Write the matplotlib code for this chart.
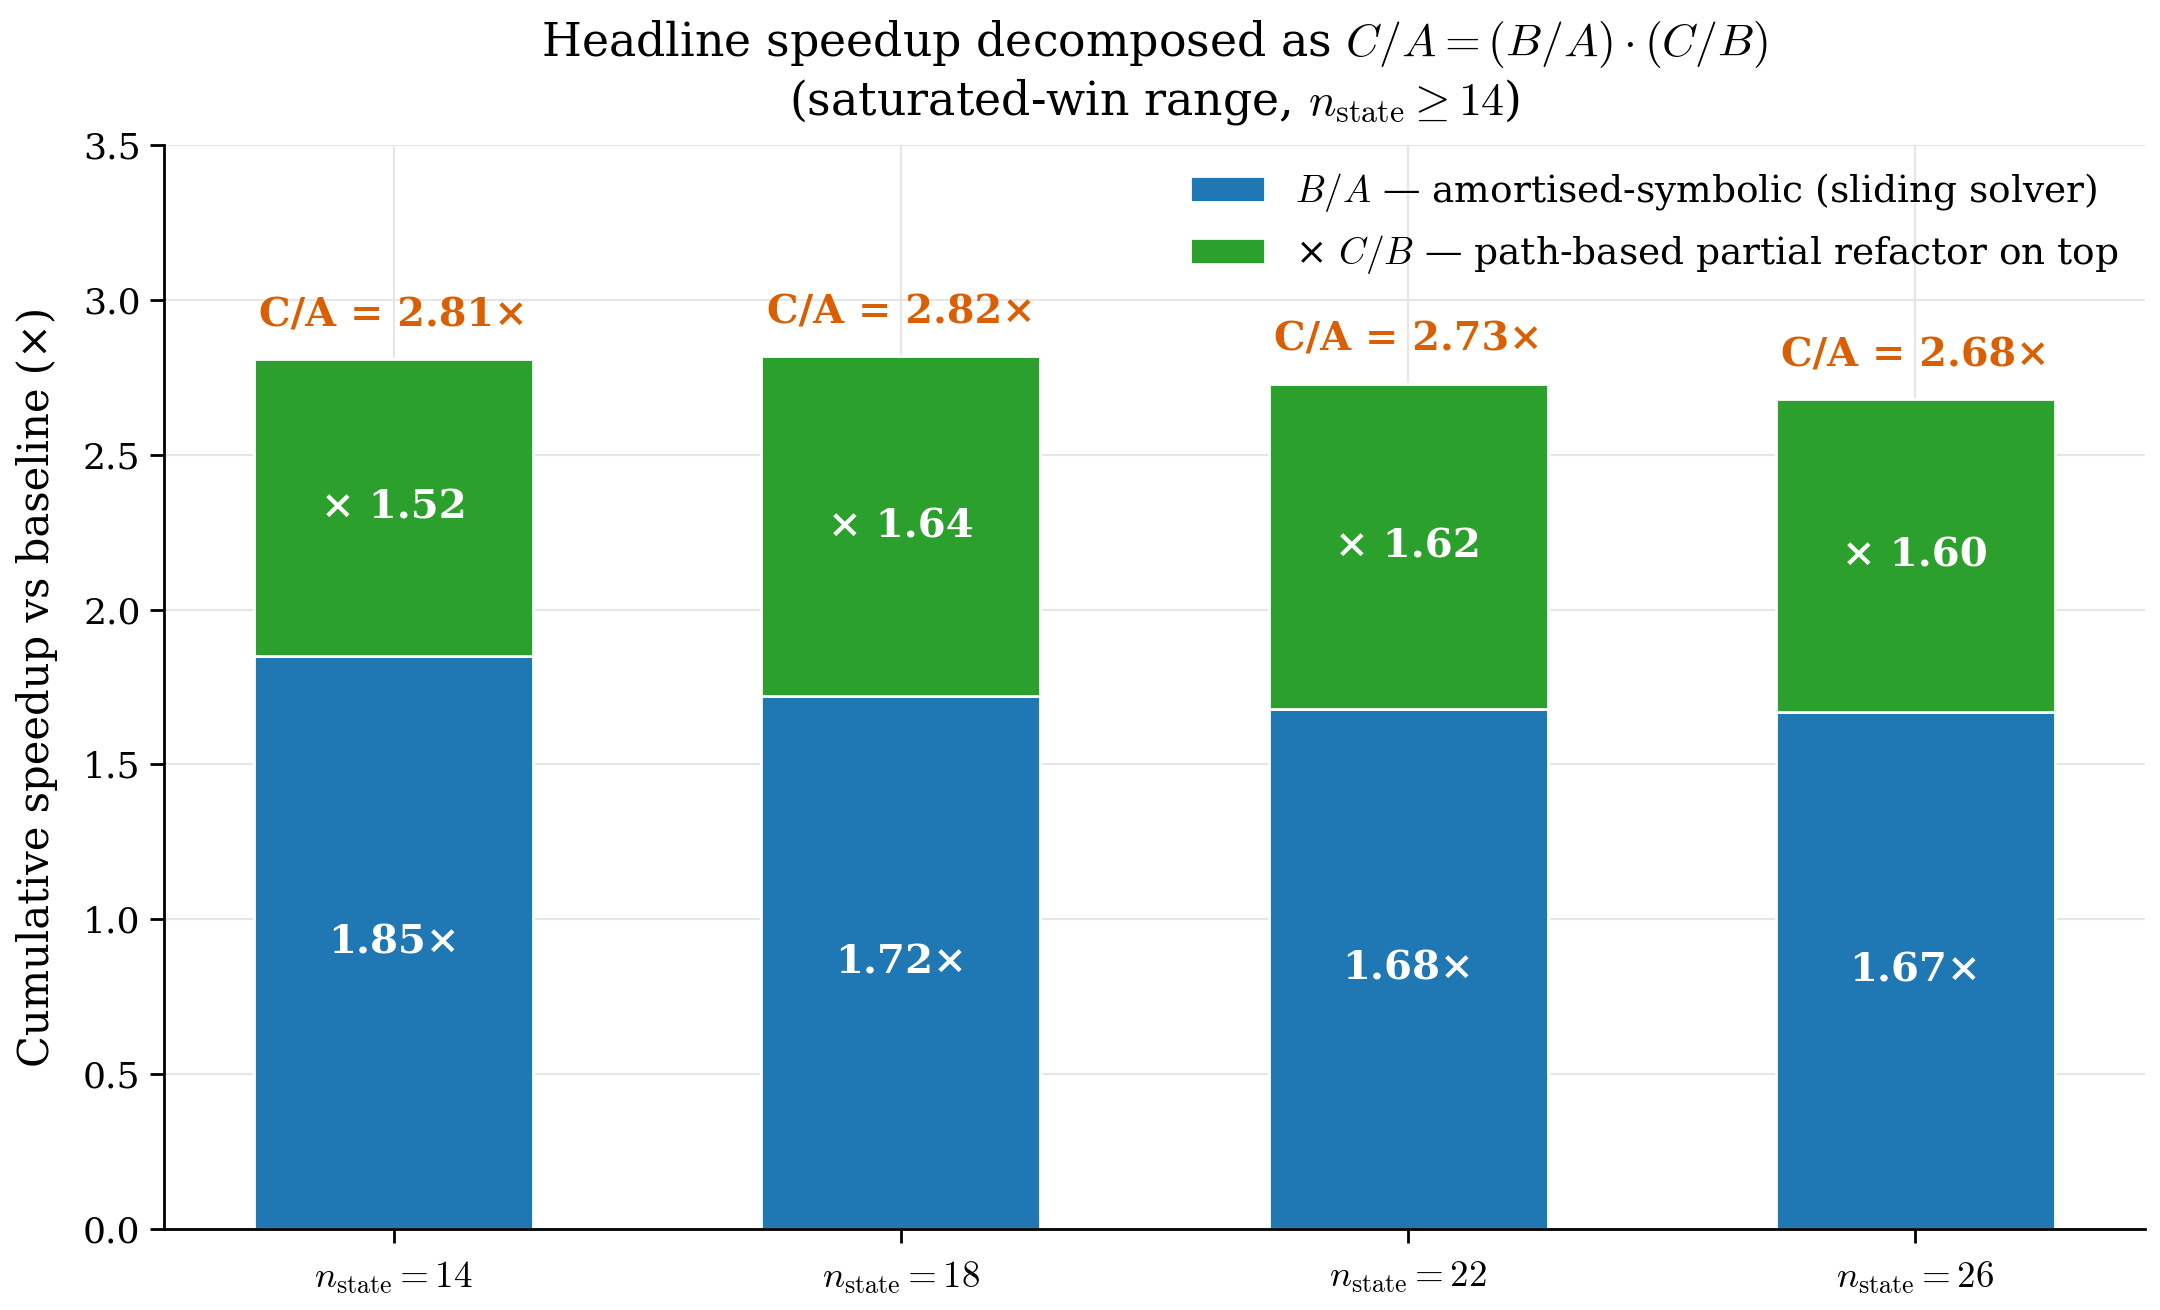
import matplotlib
matplotlib.use("Agg")
import matplotlib.pyplot as plt
import numpy as np

plt.rcParams["font.family"] = "DejaVu Serif"
plt.rcParams["mathtext.fontset"] = "cm"

n_state = [14, 18, 22, 26]
b_over_a = [1.85, 1.72, 1.68, 1.67]
c_over_b = [1.52, 1.64, 1.62, 1.60]
c_over_a = [2.81, 2.82, 2.73, 2.68]

blue = "#1f77b4"
green = "#2ca02c"
orange = "#d95f02"

fig, ax = plt.subplots(figsize=(10.8, 6.55), dpi=200)
fig.subplots_adjust(left=0.076, right=0.993, top=0.889, bottom=0.062)

x = np.arange(len(n_state))
w = 0.55
top_part = [ca - ba for ca, ba in zip(c_over_a, b_over_a)]

ax.bar(x, b_over_a, w, color=blue, edgecolor="white", linewidth=1,
       label=r"$B/A$ — amortised-symbolic (sliding solver)", zorder=2)
ax.bar(x, top_part, w, bottom=b_over_a, color=green, edgecolor="white", linewidth=1,
       label=r"× $C/B$ — path-based partial refactor on top", zorder=2)

for i in range(len(x)):
    ax.text(x[i], b_over_a[i] / 2, f"{b_over_a[i]:.2f}×", ha="center", va="center",
            color="white", fontsize=14.5, fontweight="bold", zorder=3)
    ax.text(x[i], b_over_a[i] + top_part[i] / 2, f"× {c_over_b[i]:.2f}", ha="center",
            va="center", color="white", fontsize=14.5, fontweight="bold", zorder=3)
    ax.text(x[i], c_over_a[i] + 0.08, f"C/A = {c_over_a[i]:.2f}×", ha="center",
            va="bottom", color=orange, fontsize=14.3, fontweight="bold", zorder=3)

ax.set_ylim(0, 3.5)
ax.set_xticks(x)
ax.set_xticklabels([rf"$n_{{\rm state}}={n}$" for n in n_state], fontsize=13.3)
ax.tick_params(axis="both", length=5, width=1.0)
ax.tick_params(axis="x", pad=6)
ax.tick_params(axis="y", labelsize=13)
ax.set_ylabel("Cumulative speedup vs baseline (×)", fontsize=15, labelpad=9)
ax.set_title(r"Headline speedup decomposed as $C/A = (B/A)\cdot(C/B)$" + "\n"
             r"(saturated-win range, $n_{\rm state} \geq 14$)", fontsize=16.5, pad=11)
ax.grid(True, color="#e6e6e6", linewidth=0.8, zorder=0)
ax.set_axisbelow(True)
for s in ["top", "right"]:
    ax.spines[s].set_visible(False)
for s in ["left", "bottom"]:
    ax.spines[s].set_linewidth(1.0)
ax.legend(loc="upper right", bbox_to_anchor=(1.0035, 1.0075), frameon=False, fontsize=13.5)

fig.savefig("out.png", dpi=200)
